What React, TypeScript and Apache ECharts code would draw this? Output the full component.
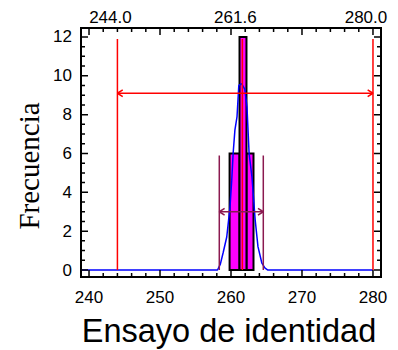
import React, { useEffect, useRef } from "react";
import * as echarts from "echarts";

// ---- data ----
const X_MIN = 238.87;
const X_MAX = 281.13;
const Y_MIN = -0.36;
const Y_MAX = 12.46;

const xLabelValues = [240, 250, 260, 270, 280];
const yLabelValues = [0, 2, 4, 6, 8, 10, 12];
const topLabelValues = [244.0, 261.6, 280.0];

// tick positions (axis units)
const xMajorTicks = [240, 250, 260, 270, 280];
const xMinorTicks = [242, 244, 246, 248, 252, 254, 256, 258, 262, 264, 266, 268, 272, 274, 276, 278];
const yMajorTicks = [0, 2, 4, 6, 8, 10, 12];
const yMinorTicks = [0.5, 1, 1.5, 2.5, 3, 3.5, 4.5, 5, 5.5, 6.5, 7, 7.5, 8.5, 9, 9.5, 10.5, 11, 11.5];

// histogram bins: [start, end, frequency]
const histBins = [
  [259.8, 261.2, 6],
  [262.18, 263.17, 6],
  [261.2, 262.18, 12],
];

// fitted curve (blue)
const curvePoints = [
  [239.0, 0], [258.1, 0], [258.5, 0.3], [258.9, 0.9], [259.4, 1.7], [259.85, 3.2],
  [260.1, 4.6], [260.3, 6.0], [260.55, 7.2], [260.85, 7.9], [261.1, 9.5], [261.5, 9.6],
  [261.95, 9.3], [262.25, 8.4], [262.55, 6.0], [262.95, 4.8], [263.4, 2.6], [263.8, 1.2],
  [264.35, 0.35], [264.8, 0.1], [265.2, 0], [280.0, 0],
];

// specification limits (red)
const LSL = 244.0;
const USL = 280.0;
const TARGET = 261.6;
const SPEC_TOP = 11.9;
const SPEC_ARROW_Y = 9.1;

// natural tolerance (maroon)
const NAT_LOW = 258.35;
const NAT_HIGH = 264.55;
const NAT_TOP = 5.9;
const NAT_ARROW_Y = 3.0;

const RED = "#FF0000";
const MAROON = "#8B1A50";
const INK = "#000000";
const SANS = "Liberation Sans, Arial, sans-serif";
const SERIF = "Liberation Serif, Times New Roman, serif";

const MAJOR_LEN = 7;
const MINOR_LEN = 4;

function seg(name: string, pts: number[][], color: string, width = 1.5, z = 5) {
  return {
    type: "line",
    name,
    data: pts,
    xAxisIndex: 0,
    yAxisIndex: 0,
    showSymbol: false,
    symbol: "none",
    z,
    lineStyle: { color, width },
  };
}

function doubleArrow(prefix: string, a: number, b: number, y: number, color: string) {
  const dx = 0.75;
  const dy = 0.17;
  return [
    seg(prefix + "-h", [[a, y], [b, y]], color),
    seg(prefix + "-la", [[a + dx, y + dy], [a, y], [a + dx, y - dy]], color),
    seg(prefix + "-ra", [[b - dx, y + dy], [b, y], [b - dx, y - dy]], color),
  ];
}

function baseSeries(): any[] {
  return [
    {
      type: "custom",
      name: "Histograma",
      xAxisIndex: 0,
      yAxisIndex: 0,
      z: 2,
      data: histBins,
      encode: { x: [0, 1], y: 2 },
      renderItem: (params: any, api: any) => {
        const p0 = api.coord([api.value(0), api.value(2)]);
        const p1 = api.coord([api.value(1), 0]);
        return {
          type: "rect",
          shape: { x: p0[0], y: p0[1], width: p1[0] - p0[0], height: p1[1] - p0[1] },
          style: { fill: "#FF00FF", stroke: "#000", lineWidth: 2 },
        };
      },
    },
    {
      type: "line",
      name: "Curva",
      data: curvePoints,
      xAxisIndex: 0,
      yAxisIndex: 0,
      showSymbol: false,
      symbol: "none",
      z: 4,
      lineStyle: { color: "#0000FF", width: 1.5 },
    },
    seg("LSL", [[LSL, 0], [LSL, SPEC_TOP]], RED),
    seg("USL", [[USL, 0], [USL, SPEC_TOP]], RED),
    seg("Target", [[TARGET, 0], [TARGET, SPEC_TOP]], RED),
    ...doubleArrow("spec", LSL, USL, SPEC_ARROW_Y, RED),
    seg("NatLow", [[NAT_LOW, 0], [NAT_LOW, NAT_TOP]], MAROON),
    seg("NatHigh", [[NAT_HIGH, 0], [NAT_HIGH, NAT_TOP]], MAROON),
    ...doubleArrow("nat", NAT_LOW, NAT_HIGH, NAT_ARROW_Y, MAROON),
  ];
}

// inward ticks on the four frame sides, as short line segments in data units
function tickSeries(pxPerX: number, pxPerY: number): any[] {
  const out: any[] = [];
  const add = (pts: number[][]) => out.push(seg("tick", pts, INK, 1.5, 11));
  const xt = (vals: number[], len: number) =>
    vals.forEach((v) => {
      const d = len / pxPerY;
      add([[v, Y_MIN], [v, Y_MIN + d]]);
      add([[v, Y_MAX], [v, Y_MAX - d]]);
    });
  const yt = (vals: number[], len: number) =>
    vals.forEach((v) => {
      const d = len / pxPerX;
      add([[X_MIN, v], [X_MIN + d, v]]);
      add([[X_MAX, v], [X_MAX - d, v]]);
    });
  xt(xMajorTicks, MAJOR_LEN);
  xt(xMinorTicks, MINOR_LEN);
  yt(yMajorTicks, MAJOR_LEN);
  yt(yMinorTicks, MINOR_LEN);
  return out;
}

export default function App() {
  const ref = useRef<HTMLDivElement>(null);

  useEffect(() => {
    if (!ref.current) return;
    const chart = echarts.init(ref.current, undefined, { renderer: "svg" });

    const labelStyle = { color: "#000", fontSize: 17, fontFamily: SANS };

    const option: any = {
      animation: false,
      grid: {
        left: 81,
        right: 17,
        top: 28,
        bottom: 73,
        show: true,
        borderColor: INK,
        borderWidth: 2,
        backgroundColor: "transparent",
      },
      xAxis: {
        type: "value",
        min: X_MIN,
        max: X_MAX,
        position: "bottom",
        splitLine: { show: false },
        axisLine: { show: false, onZero: false },
        axisTick: { show: false },
        axisLabel: { ...labelStyle, margin: 12, customValues: xLabelValues },
      },
      yAxis: {
        type: "value",
        min: Y_MIN,
        max: Y_MAX,
        position: "left",
        splitLine: { show: false },
        axisLine: { show: false, onZero: false },
        axisTick: { show: false },
        axisLabel: { ...labelStyle, margin: 9, customValues: yLabelValues },
      },
      series: baseSeries(),
    };

    chart.setOption(option);

    const p00 = chart.convertToPixel({ gridIndex: 0 }, [250, 0]) as number[];
    const p11 = chart.convertToPixel({ gridIndex: 0 }, [260, 10]) as number[];
    const pxPerX = Math.abs(p11[0] - p00[0]) / 10;
    const pxPerY = Math.abs(p11[1] - p00[1]) / 10;

    // top axis labels (spec values), placed through the x scale
    const topLabels = topLabelValues.map((v) => {
      const px = chart.convertToPixel({ xAxisIndex: 0 }, v) as number;
      return {
        type: "text",
        x: px - 7,
        y: 26,
        z: 10,
        style: {
          text: v.toFixed(1),
          fontFamily: SANS,
          fontSize: 17,
          fill: "#000",
          textAlign: "center",
          textVerticalAlign: "bottom",
        },
      };
    });

    chart.setOption({
      series: [...baseSeries(), ...tickSeries(pxPerX, pxPerY)],
      graphic: [
        ...topLabels,
        {
          type: "text",
          x: 29,
          y: 166,
          rotation: Math.PI / 2,
          style: {
            text: "Frecuencia",
            fontFamily: SERIF,
            fontSize: 29,
            fill: "#000",
            textAlign: "center",
            textVerticalAlign: "middle",
          },
        },
        {
          type: "text",
          x: 229,
          y: 331,
          style: {
            text: "Ensayo de identidad",
            fontFamily: SANS,
            fontSize: 32.5,
            fill: "#000",
            textAlign: "center",
            textVerticalAlign: "middle",
          },
        },
      ],
    });

    return () => chart.dispose();
  }, []);

  return (
    <div
      ref={ref}
      style={{ position: "fixed", left: 0, top: 0, width: 398, height: 350, background: "#fff" }}
    />
  );
}
